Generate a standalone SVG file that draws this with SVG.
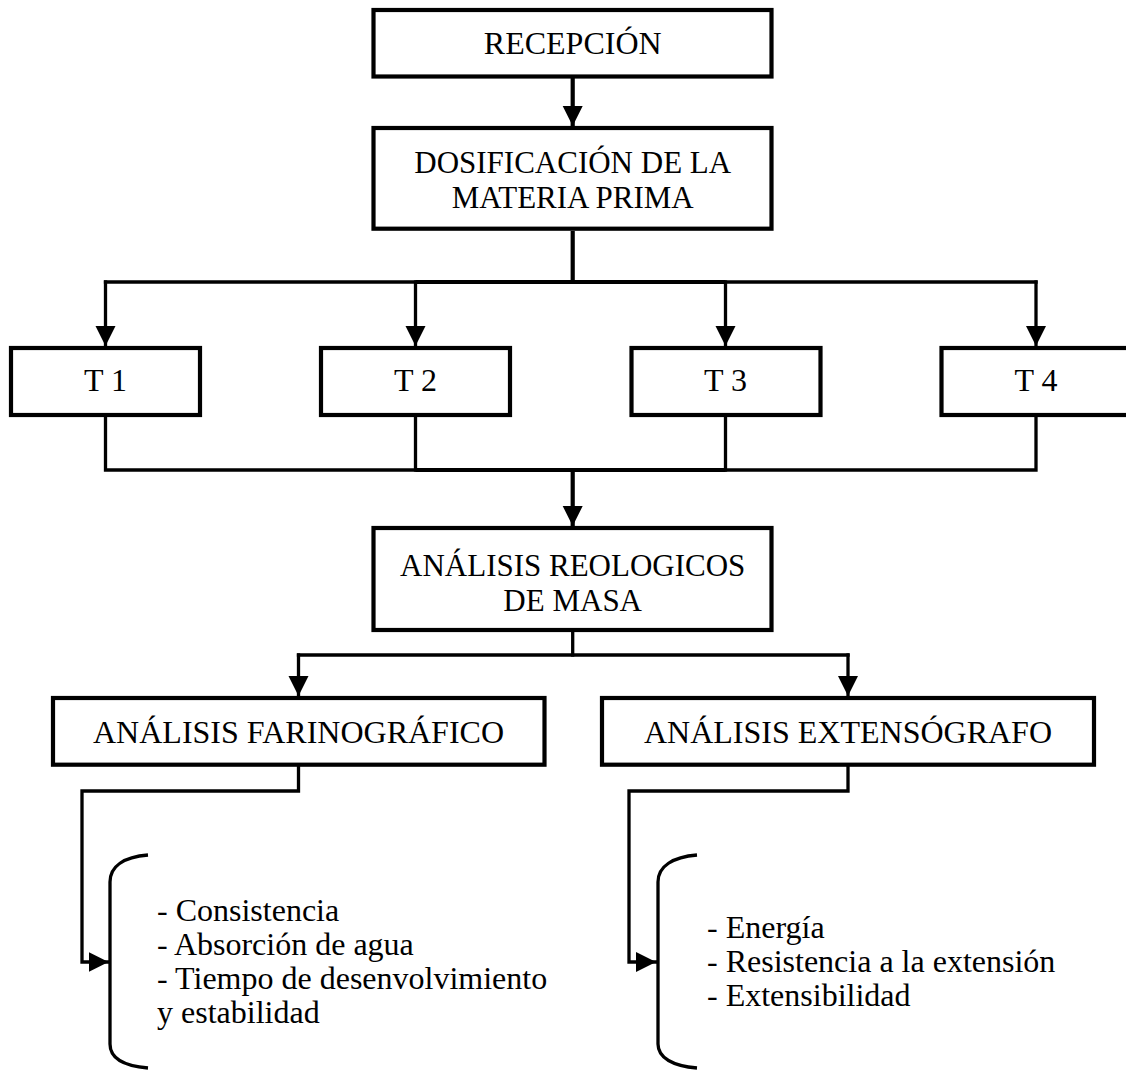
<svg xmlns="http://www.w3.org/2000/svg" width="1126" height="1070" viewBox="0 0 1126 1070">
  <style>
    .box { fill: #ffffff; stroke: #000000; stroke-width: 4.2; }
    .lbl { font-family: "Liberation Serif", "Times New Roman", serif; font-size: 32px; fill: #000000; text-anchor: middle; }
    .lbl2 { font-size: 31px; }
    .item { font-family: "Liberation Serif", "Times New Roman", serif; font-size: 32px; fill: #000000; }
    .wire { fill: none; stroke: #000000; stroke-width: 3.3; stroke-linejoin: miter; stroke-linecap: square; }
    .main { fill: none; stroke: #000000; stroke-width: 4.2; stroke-linecap: butt; }
    .brace { fill: none; stroke: #000000; stroke-width: 3.3; }
  </style>
  <defs>
    <marker id="arrow" markerUnits="userSpaceOnUse" markerWidth="21" markerHeight="21" refX="20" refY="10" orient="auto" viewBox="0 0 21 21">
      <path d="M0,0 L20,10 L0,20 Z" fill="#000000"/>
    </marker>
  </defs>

  <rect width="1126" height="1070" fill="#ffffff"/>

  <!-- connectors -->
  <g id="connectors">
    <!-- reception to dosing -->
    <path class="main" d="M572.7,78 V126" marker-end="url(#arrow)"/>
    <!-- dosing fans out to the four treatments -->
    <path class="main" d="M572.7,231 V282"/>
    <path class="main" d="M415.5,282 H725.5"/>
    <path class="wire" d="M105.5,282 H415.5"/>
    <path class="wire" d="M725.5,282 H1036"/>
    <path class="wire" d="M105.5,282 V346" marker-end="url(#arrow)"/>
    <path class="wire" d="M415.5,282 V346" marker-end="url(#arrow)"/>
    <path class="wire" d="M725.5,282 V346" marker-end="url(#arrow)"/>
    <path class="wire" d="M1036,282 V346" marker-end="url(#arrow)"/>
    <!-- treatments gather into rheology -->
    <path class="wire" d="M105.5,417 V470 H415.5"/>
    <path class="wire" d="M415.5,417 V470"/>
    <path class="wire" d="M725.5,417 V470"/>
    <path class="wire" d="M1036,417 V470 H725.5"/>
    <path class="main" d="M415.5,470 H725.5"/>
    <path class="main" d="M572.7,470 V526" marker-end="url(#arrow)"/>
    <!-- rheology splits into two analyses -->
    <path class="wire" d="M572.7,632 V655"/>
    <path class="wire" d="M298.5,655 H848"/>
    <path class="wire" d="M298.5,655 V696" marker-end="url(#arrow)"/>
    <path class="wire" d="M848,655 V696" marker-end="url(#arrow)"/>
    <!-- analyses to their result lists -->
    <path class="wire" d="M298.5,767 V791 H82 V962 H108.5" marker-end="url(#arrow)"/>
    <path class="wire" d="M848,767 V791 H629 V962 H656" marker-end="url(#arrow)"/>
  </g>

  <g id="recepcion">
    <rect class="box" x="373.5" y="10" width="398" height="66.5"/>
    <text class="lbl" x="572.7" y="54">RECEPCIÓN</text>
  </g>

  <g id="dosificacion">
    <rect class="box" x="373.5" y="128" width="398" height="100.7"/>
    <text class="lbl lbl2" x="572.7" y="173">DOSIFICACIÓN DE LA</text>
    <text class="lbl lbl2" x="572.7" y="208">MATERIA PRIMA</text>
  </g>

  <g id="t1">
    <rect class="box" x="11" y="348" width="189" height="67"/>
    <text class="lbl" x="105.5" y="391">T 1</text>
  </g>
  <g id="t2">
    <rect class="box" x="321" y="348" width="189" height="67"/>
    <text class="lbl" x="415.5" y="391">T 2</text>
  </g>
  <g id="t3">
    <rect class="box" x="631.5" y="348" width="189" height="67"/>
    <text class="lbl" x="725.5" y="391">T 3</text>
  </g>
  <g id="t4">
    <rect class="box" x="941.5" y="348" width="189" height="67"/>
    <text class="lbl" x="1036" y="391">T 4</text>
  </g>

  <g id="reologicos">
    <rect class="box" x="373.5" y="528" width="398" height="102"/>
    <text class="lbl lbl2" x="572.7" y="576">ANÁLISIS REOLOGICOS</text>
    <text class="lbl lbl2" x="572.7" y="611">DE MASA</text>
  </g>

  <g id="farinografico">
    <rect class="box" x="53" y="698" width="491.5" height="66.7"/>
    <text class="lbl" x="298.5" y="743">ANÁLISIS FARINOGRÁFICO</text>
  </g>

  <g id="extensografo">
    <rect class="box" x="602" y="698" width="492" height="66.7"/>
    <text class="lbl" x="848" y="743">ANÁLISIS EXTENSÓGRAFO</text>
  </g>

  <g id="farinografico-resultados">
    <path class="brace" d="M148,855 C124,857 110,866 110,882 V1044 C110,1058 124,1066 148,1068"/>
    <text class="item" x="157" y="921">- Consistencia</text>
    <text class="item" x="157" y="955">- Absorción de agua</text>
    <text class="item" x="157" y="989">- Tiempo de desenvolvimiento</text>
    <text class="item" x="157" y="1023">y estabilidad</text>
  </g>

  <g id="extensografo-resultados">
    <path class="brace" d="M697,855 C673,857 658,866 658,882 V1044 C658,1058 673,1066 697,1068"/>
    <text class="item" x="707" y="938">- Energía</text>
    <text class="item" x="707" y="972">- Resistencia a la extensión</text>
    <text class="item" x="707" y="1006">- Extensibilidad</text>
  </g>
</svg>
